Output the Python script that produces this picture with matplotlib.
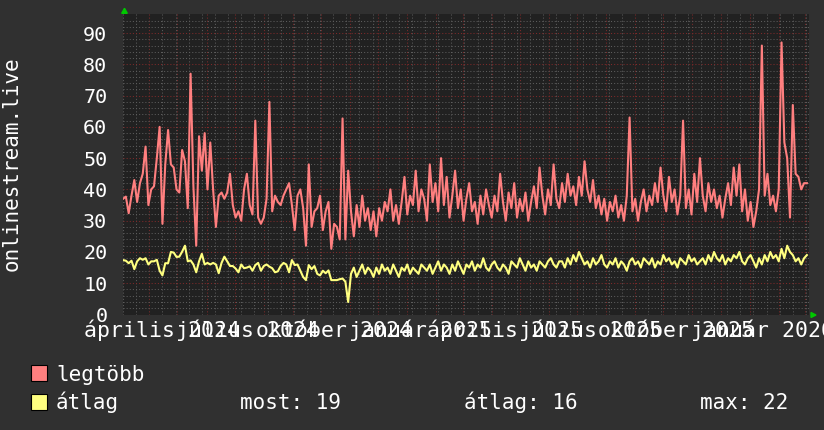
import numpy as np
import matplotlib
matplotlib.use("Agg")
from matplotlib import pyplot as plt
from matplotlib import transforms as mtransforms
from matplotlib.patches import Rectangle, Polygon

# one point every 3 days, starting 2024-03-04
start = np.datetime64('2024-03-04')
step_days = 3

legtobb = [
    37, 37.7, 32.4, 38, 43, 36, 42, 45, 53.7, 35,
    40, 41, 50, 60, 29, 48, 59, 48, 47, 40,
    39, 52.6, 49, 34, 77, 41, 22, 57, 46, 58,
    40, 55, 40, 28, 38, 39, 37, 39, 45, 35,
    31, 33, 30, 40, 45, 35, 32, 62, 31, 29,
    31, 37, 68, 33, 38, 36, 35, 38, 40, 42,
    35, 27, 38, 40, 34, 22, 48, 28, 33, 34,
    38, 27, 33, 36, 21, 29, 28, 24, 62.7, 24,
    46,
    33, 25, 35, 28, 38, 30, 34, 27, 33, 25,
    34, 30, 36, 33, 40, 30, 35, 29, 36, 44,
    32, 38, 35, 46, 33, 40, 37, 30, 48, 36,
    42, 33, 50, 35, 44, 31, 38, 46, 34, 40,
    30, 37, 42, 33, 36, 29, 38, 32, 40, 35,
    31, 38, 33, 45, 36, 30, 39, 34, 42, 31,
    37, 33, 39, 30, 36, 41, 34, 47, 38, 32,
    40, 35, 48, 37, 34, 42, 36, 45, 38, 41,
    35, 44, 38, 49, 40, 36, 43, 34, 38, 32,
    37, 30, 36, 33, 38, 31, 35, 30, 38, 63,
    33, 37, 30, 36, 40, 33, 38, 35, 42, 36,
    47, 38, 33, 44, 36, 40, 32, 38, 62, 34,
    40, 32, 45, 36, 50, 38, 33, 42, 36, 40,
    34, 38, 31, 37, 42, 35, 47, 38, 48, 33,
    40, 30, 36, 28, 33, 40, 86, 38, 45, 35,
    38, 33, 40, 87, 55, 50, 31, 67, 45, 44,
    40, 42, 42,
]

atlag = [
    17.4, 17.2, 16.4, 17.2, 14.5, 17, 18, 17.5, 18, 16,
    17, 17, 17.5, 14, 12.5, 16.4, 16.4, 20, 19.8, 18.4,
    18.5, 20.1, 22, 17, 17.3, 16, 13.5, 17, 19.4, 16,
    16.5, 16, 16.5, 16, 13.2, 16.5, 18.5, 17, 15.5, 15.5,
    14.7, 13.5, 16, 14.8, 15, 15.4, 14, 15.8, 16.5, 14,
    15.5, 16, 15.3, 14.8, 13.5, 13.8, 15.5, 16.5, 16, 13.5,
    17.4, 15.8, 16, 14, 12, 11, 15.8, 14.5, 15.5, 13,
    12.5, 14, 13.2, 14.1, 11, 11, 11, 11.3, 11.5, 10.5,
    4,
    13, 15, 12, 14, 16, 13, 15, 14, 12, 15,
    13, 16, 14, 15, 13, 16, 14, 12, 15, 14,
    16, 13, 15, 14, 13, 16, 15, 14, 16, 13,
    15, 17, 14, 16, 15, 13,
    16, 14, 17, 15, 13, 16, 15, 17, 14, 16,
    15, 18, 15, 14, 16, 17, 15, 14, 16, 15,
    13, 17, 16, 15, 18, 16, 14, 17, 15, 16,
    14, 17, 16, 15, 17, 18, 16, 15, 17,
    17, 15, 18, 16, 19, 17, 20, 18, 16, 17,
    15, 18, 16, 17, 19, 16, 15, 17, 16, 18,
    15, 17, 16, 14, 17, 18, 16, 17, 15, 18,
    17, 16, 18, 15, 17, 16, 19, 17, 18, 16,
    17, 15, 18, 17, 16, 19, 17, 18, 16, 17,
    18, 16, 19, 17, 20, 18, 17, 19, 16, 18,
    17, 19, 18, 20, 17, 16, 18, 19, 17, 15,
    18, 16, 19, 17, 20, 18, 19, 17, 21, 18,
    22, 20, 19, 17, 18, 16, 18, 19,
]

label_dates = ['2024-04-01', '2024-07-01', '2024-10-01', '2025-01-01',
               '2025-04-01', '2025-07-01', '2025-10-01', '2026-01-01']
label_texts = ['április 2024', 'július 2024', 'október 2024', 'január 2025',
               'április 2025', 'július 2025', 'október 2025', 'január 2026']
series_names = ['legtöbb', 'átlag']
stats_labels = ['most: 19', 'átlag: 16', 'max: 22']

W, H = 824, 430
BG = '#303030'
CANVAS = '#212121'
RED = '#ff7f7f'
YEL = '#ffff80'
MONO = 'DejaVu Sans Mono'

fig = plt.figure(figsize=(W / 100, H / 100), dpi=100, facecolor=BG)
left, right, top, bottom = 122.7, 809.3, 14.3, 314.5
ax = fig.add_axes([left / W, (H - bottom) / H, (right - left) / W, (bottom - top) / H])
ax.set_facecolor(CANVAS)

d_red = start + np.arange(len(legtobb)) * np.timedelta64(step_days, 'D')
d_yel = start + np.arange(len(atlag)) * np.timedelta64(step_days, 'D')
ax.plot(d_red, legtobb, color=RED, lw=1.5, zorder=3)
ax.plot(d_yel, atlag, color=YEL, lw=1.5, zorder=3)

ax.set_xlim(np.datetime64('2024-03-03T15:00'), np.datetime64('2026-03-05T14:00'))
ax.set_ylim(0, 96)

months = np.arange(np.datetime64('2024-04'), np.datetime64('2026-04'), np.timedelta64(1, 'M')).astype('datetime64[D]')
biweekly = np.arange(np.datetime64('2024-03-04'), np.datetime64('2026-03-06'), np.timedelta64(14, 'D'))
ax.set_xticks(months)
ax.set_xticks(biweekly, minor=True)
ax.set_yticks(np.arange(0, 91, 10))
ax.set_yticks(np.arange(0, 96, 2), minor=True)
ax.grid(which='minor', color='#5c5c5c', lw=0.75, ls=(0, (1, 2)))
ax.grid(which='major', color='#7e2a2a', lw=0.75, ls=(0, (1, 2)))
ax.set_axisbelow(True)

ax.tick_params(axis='x', which='both', length=0, labelbottom=False)
ax.tick_params(axis='y', which='both', length=0, pad=11, labelcolor='white', labelsize=14.5)
for lab in ax.get_yticklabels():
    lab.set_family(MONO)
for s in ax.spines.values():
    s.set_visible(False)

# quarter labels under the axis (they overlap in the original too)
trans = mtransforms.blended_transform_factory(ax.transData, ax.transAxes) + \
    mtransforms.ScaledTranslation(13 / 100, -22.5 / 100, fig.dpi_scale_trans)
for d, t in zip(label_dates, label_texts):
    ax.text(np.datetime64(d), 0, t, transform=trans, ha='center', va='baseline',
            color='white', fontsize=15.5, family=MONO, clip_on=False)

fig.text(11.7 / W, 1 - 164 / H, 'onlinestream.live', rotation=90, ha='center', va='center',
         color='white', fontsize=15, family=MONO)

# green arrows at axis ends
fig.patches.append(Polygon([[121.7 / W, 1 - 13.3 / H], [127.3 / W, 1 - 13.3 / H], [124.5 / W, 1 - 8.3 / H]],
                           closed=True, transform=fig.transFigure, color='#00c800'))
fig.patches.append(Polygon([[811 / W, 1 - 312.5 / H], [811 / W, 1 - 317.5 / H], [816 / W, 1 - 315 / H]],
                           closed=True, transform=fig.transFigure, color='#00c800'))

# legend
for (y0, col) in [(365, RED), (394, YEL)]:
    fig.patches.append(Rectangle((31.5 / W, 1 - (y0 + 16) / H), 16 / W, 16 / H, transform=fig.transFigure,
                                 facecolor=col, edgecolor='black', lw=0.8))
fig.text(56 / W, 1 - 381 / H, series_names[0], color='white', fontsize=15, family=MONO, va='baseline')
fig.text(56 / W, 1 - 409 / H, series_names[1], color='white', fontsize=15, family=MONO, va='baseline')
for x0, t in zip([240, 464, 700], stats_labels):
    fig.text(x0 / W, 1 - 409 / H, t, color='white', fontsize=15, family=MONO, va='baseline')

fig.savefig('out.png', dpi=100, facecolor=BG)
